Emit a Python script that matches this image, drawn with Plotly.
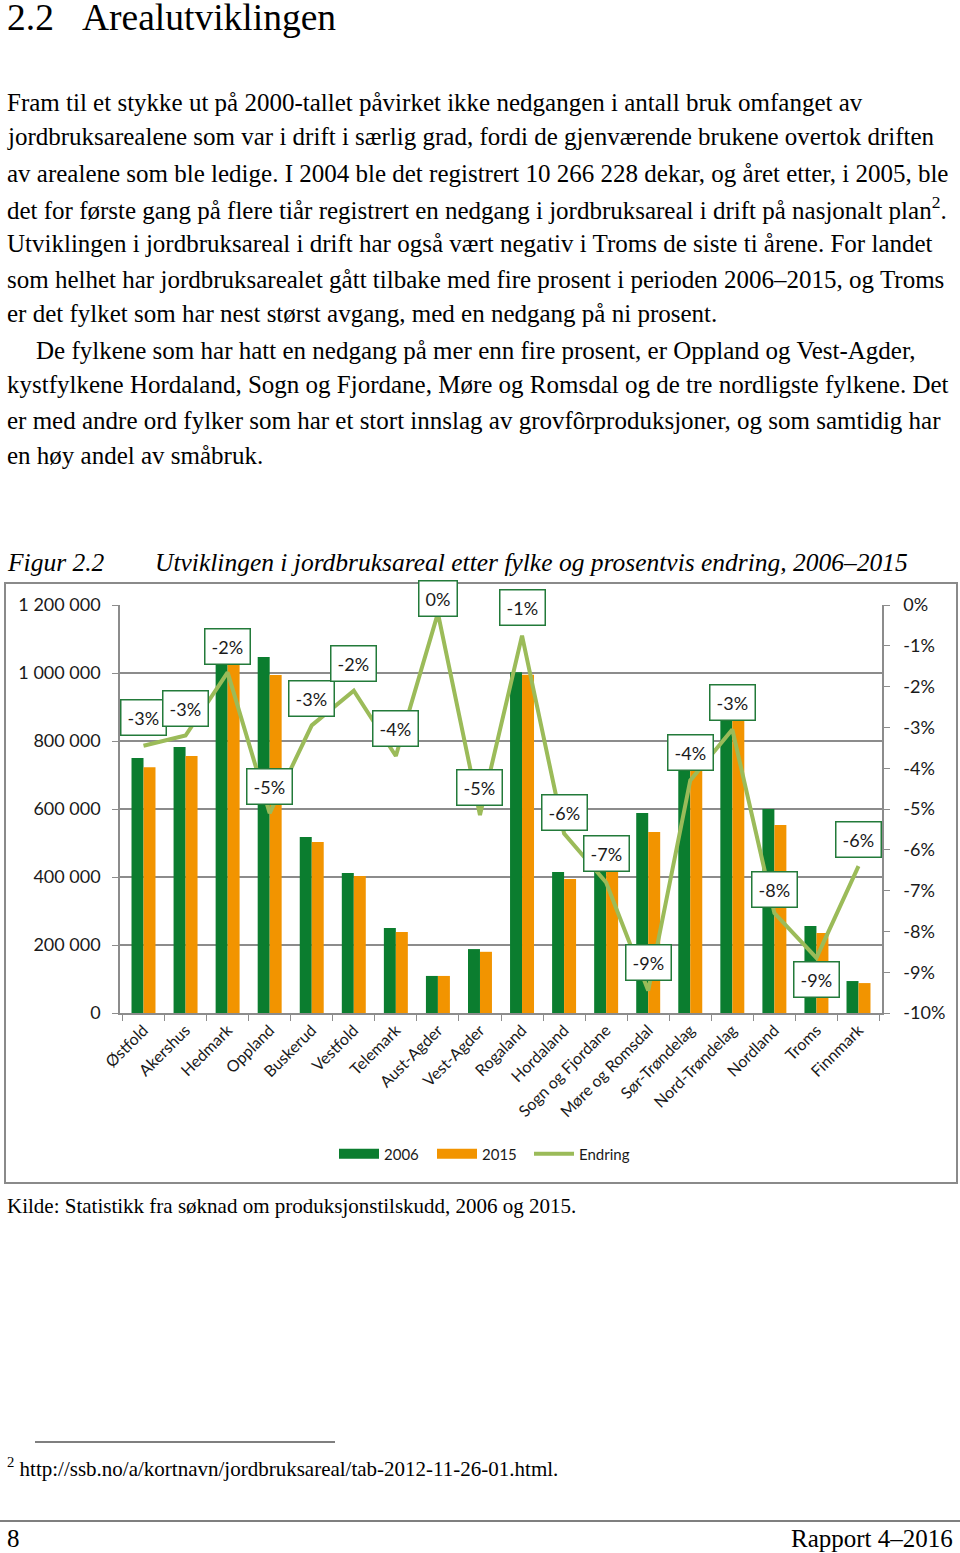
import plotly.graph_objects as go

W, H = 960, 1553

categories = ["Østfold", "Akershus", "Hedmark", "Oppland", "Buskerud", "Vestfold",
              "Telemark", "Aust-Agder", "Vest-Agder", "Rogaland", "Hordaland",
              "Sogn og Fjordane", "Møre og Romsdal", "Sør-Trøndelag", "Nord-Trøndelag",
              "Nordland", "Troms", "Finnmark"]
area_2006 = [750000, 782000, 1060000, 1047000, 518000, 412000, 250000, 109000, 188000,
             1002000, 415000, 446000, 588000, 750000, 900000, 600000, 256000, 94000]
area_2015 = [723000, 756000, 1039000, 994000, 503000, 403000, 238000, 109000, 180000,
             995000, 394000, 415000, 532000, 720000, 873000, 553000, 235000, 88000]
change_pct = [-3.45, -3.2, -1.65, -5.1, -2.95, -2.1, -3.7, -0.2, -5.15, -0.75, -5.6,
              -6.8, -9.45, -4.3, -3.05, -7.55, -8.65, -6.4]
# label vertical offsets (pixels, style only)
label_shift = [28, 27, 26, 27, 27, 27, 27, 15, 28, 28, 21, 29, 28, 28, 27, 24, -22, 27]

left_ticks = [0, 200000, 400000, 600000, 800000, 1000000, 1200000]
right_ticks = [0, -1, -2, -3, -4, -5, -6, -7, -8, -9, -10]
right_tick_text = ["0%", "-1%", "-2%", "-3%", "-4%", "-5%", "-6%", "-7%", "-8%", "-9%", "-10%"]

GREEN = "#0B7D2F"
ORANGE = "#F29400"
LINE = "#9BBB59"
GRID = "#8C8C8C"

def px(x):
    return x / W

def py(y):
    return 1 - y / H

fig = go.Figure()
fig.add_trace(go.Bar(x=categories, y=area_2006, name="2006", marker_color=GREEN,
                     marker_line_width=0, showlegend=False, legendgroup="a"))
fig.add_trace(go.Bar(x=categories, y=area_2015, name="2015", marker_color=ORANGE,
                     marker_line_width=0, showlegend=False, legendgroup="b"))
fig.add_trace(go.Scatter(x=categories, y=change_pct, name="Endring", mode="lines",
                         line=dict(color=LINE, width=4), yaxis="y2", showlegend=False,
                         legendgroup="c"))
# legend entries (wide rectangular swatches like the original)
fig.add_trace(go.Scatter(x=[None], y=[None], mode="lines", name="2006",
                         line=dict(color=GREEN, width=10), legendgroup="a"))
fig.add_trace(go.Scatter(x=[None], y=[None], mode="lines", name="2015",
                         line=dict(color=ORANGE, width=10), legendgroup="b"))
fig.add_trace(go.Scatter(x=[None], y=[None], mode="lines", name="Endring",
                         line=dict(color=LINE, width=4), legendgroup="c", legend="legend2"))

annotations = []
for c, v, s in zip(categories, change_pct, label_shift):
    annotations.append(dict(
        x=c, y=v, xref="x", yref="y2", yshift=s, showarrow=False,
        text=f"{int(round(v))}%", font=dict(family="Lato", size=18, color="#1a1a1a"),
        bgcolor="white", bordercolor="#237A3A", borderwidth=1.5, borderpad=6,
        xanchor="center", yanchor="middle"))

def txt(x, y, s, size, family="Liberation Serif", anchor="left", italic=False):
    if italic:
        s = f"<i>{s}</i>"
    annotations.append(dict(x=px(x), y=py(y), xref="paper", yref="paper", text=s,
                            showarrow=False, xanchor=anchor, yanchor="middle",
                            font=dict(family=family, size=size, color="black")))

txt(5, 18, "2.2", 37.5)
txt(80, 18, "Arealutviklingen", 37.5)

body = [
    "Fram til et stykke ut på 2000-tallet påvirket ikke nedgangen i antall bruk omfanget av",
    "jordbruksarealene som var i drift i særlig grad, fordi de gjenværende brukene overtok driften",
    "av arealene som ble ledige. I 2004 ble det registrert 10 266 228 dekar, og året etter, i 2005, ble",
    "det for første gang på flere tiår registrert en nedgang i jordbruksareal i drift på nasjonalt plan<sup>2</sup>.",
    "Utviklingen i jordbruksareal i drift har også vært negativ i Troms de siste ti årene. For landet",
    "som helhet har jordbruksarealet gått tilbake med fire prosent i perioden 2006–2015, og Troms",
    "er det fylket som har nest størst avgang, med en nedgang på ni prosent.",
    "De fylkene som har hatt en nedgang på mer enn fire prosent, er Oppland og Vest-Agder,",
    "kystfylkene Hordaland, Sogn og Fjordane, Møre og Romsdal og de tre nordligste fylkene. Det",
    "er med andre ord fylker som har et stort innslag av grovfôrproduksjoner, og som samtidig har",
    "en høy andel av småbruk.",
]
body_y = [102, 137, 173, 208, 243, 279, 314, 350, 385, 420, 456]
for i, (line, y) in enumerate(zip(body, body_y)):
    txt(34 if i == 7 else 5, y, line, 25)

txt(5, 562, "Figur 2.2", 25.5, italic=True)
txt(153, 562, "Utviklingen i jordbruksareal etter fylke og prosentvis endring, 2006–2015", 25.5, italic=True)
txt(5, 1206, "Kilde: Statistikk fra søknad om produksjonstilskudd, 2006 og 2015.", 21)
txt(5, 1467, "<sup>2</sup> http://ssb.no/a/kortnavn/jordbruksareal/tab-2012-11-26-01.html.", 21)
txt(5, 1538, "8", 25)
txt(955, 1538, "Rapport 4–2016", 25, anchor="right")

shapes = [
    dict(type="rect", xref="paper", yref="paper", x0=px(5), x1=px(957), y0=py(583), y1=py(1183),
         line=dict(color="#8A8A8A", width=2), fillcolor="rgba(0,0,0,0)", layer="below"),
    dict(type="line", xref="paper", yref="paper", x0=px(35), x1=px(335), y0=py(1442), y1=py(1442),
         line=dict(color="black", width=1.2)),
    dict(type="line", xref="paper", yref="paper", x0=0, x1=1, y0=py(1521), y1=py(1521),
         line=dict(color="black", width=1.2)),
]

legend_font = dict(family="Lato", size=15, color="#1a1a1a")

fig.update_layout(
    width=W, height=H, margin=dict(l=0, r=0, t=0, b=0, pad=0, autoexpand=False),
    paper_bgcolor="white", plot_bgcolor="white",
    separators=", ",
    barmode="group", bargap=0.43, bargroupgap=0,
    showlegend=True,
    legend=dict(orientation="h", x=px(334), xanchor="left", y=py(1154), yanchor="middle",
                font=legend_font, itemwidth=40, entrywidth=43, entrywidthmode="pixels",
                bgcolor="rgba(0,0,0,0)"),
    legend2=dict(orientation="h", x=px(529), xanchor="left", y=py(1154), yanchor="middle",
                 font=legend_font, itemwidth=40, bgcolor="rgba(0,0,0,0)"),
    xaxis=dict(domain=[px(120), px(882)], type="category", tickangle=-45,
               tickson="boundaries", ticks="outside", ticklen=6, tickcolor=GRID,
               showline=True, linecolor=GRID, linewidth=1.5, showgrid=False,
               anchor="y", automargin=False,
               tickfont=dict(family="Lato", size=16, color="#1a1a1a")),
    yaxis=dict(domain=[py(1013), py(605)], range=[0, 1200000], tickvals=left_ticks,
               tickformat=",d", showgrid=True, gridcolor=GRID, gridwidth=1.5,
               showline=True, linecolor=GRID, linewidth=1.5, ticks="outside", ticklen=6,
               tickcolor=GRID, zeroline=False, ticklabelstandoff=8, automargin=False,
               tickfont=dict(family="Lato", size=18, color="#1a1a1a")),
    yaxis2=dict(domain=[py(1013), py(605)], range=[-10, 0], tickvals=right_ticks,
                ticktext=right_tick_text, overlaying="y", side="right", anchor="x",
                showgrid=False, showline=True, linecolor=GRID, linewidth=1.5,
                ticks="outside", ticklen=6, tickcolor=GRID, zeroline=False,
                ticklabelstandoff=10, automargin=False,
                tickfont=dict(family="Lato", size=18, color="#1a1a1a")),
    annotations=annotations,
    shapes=shapes,
)

fig.write_html("out.html", config={"displayModeBar": False},
               post_script="document.body.style.margin='0';document.body.style.overflow='hidden';")
